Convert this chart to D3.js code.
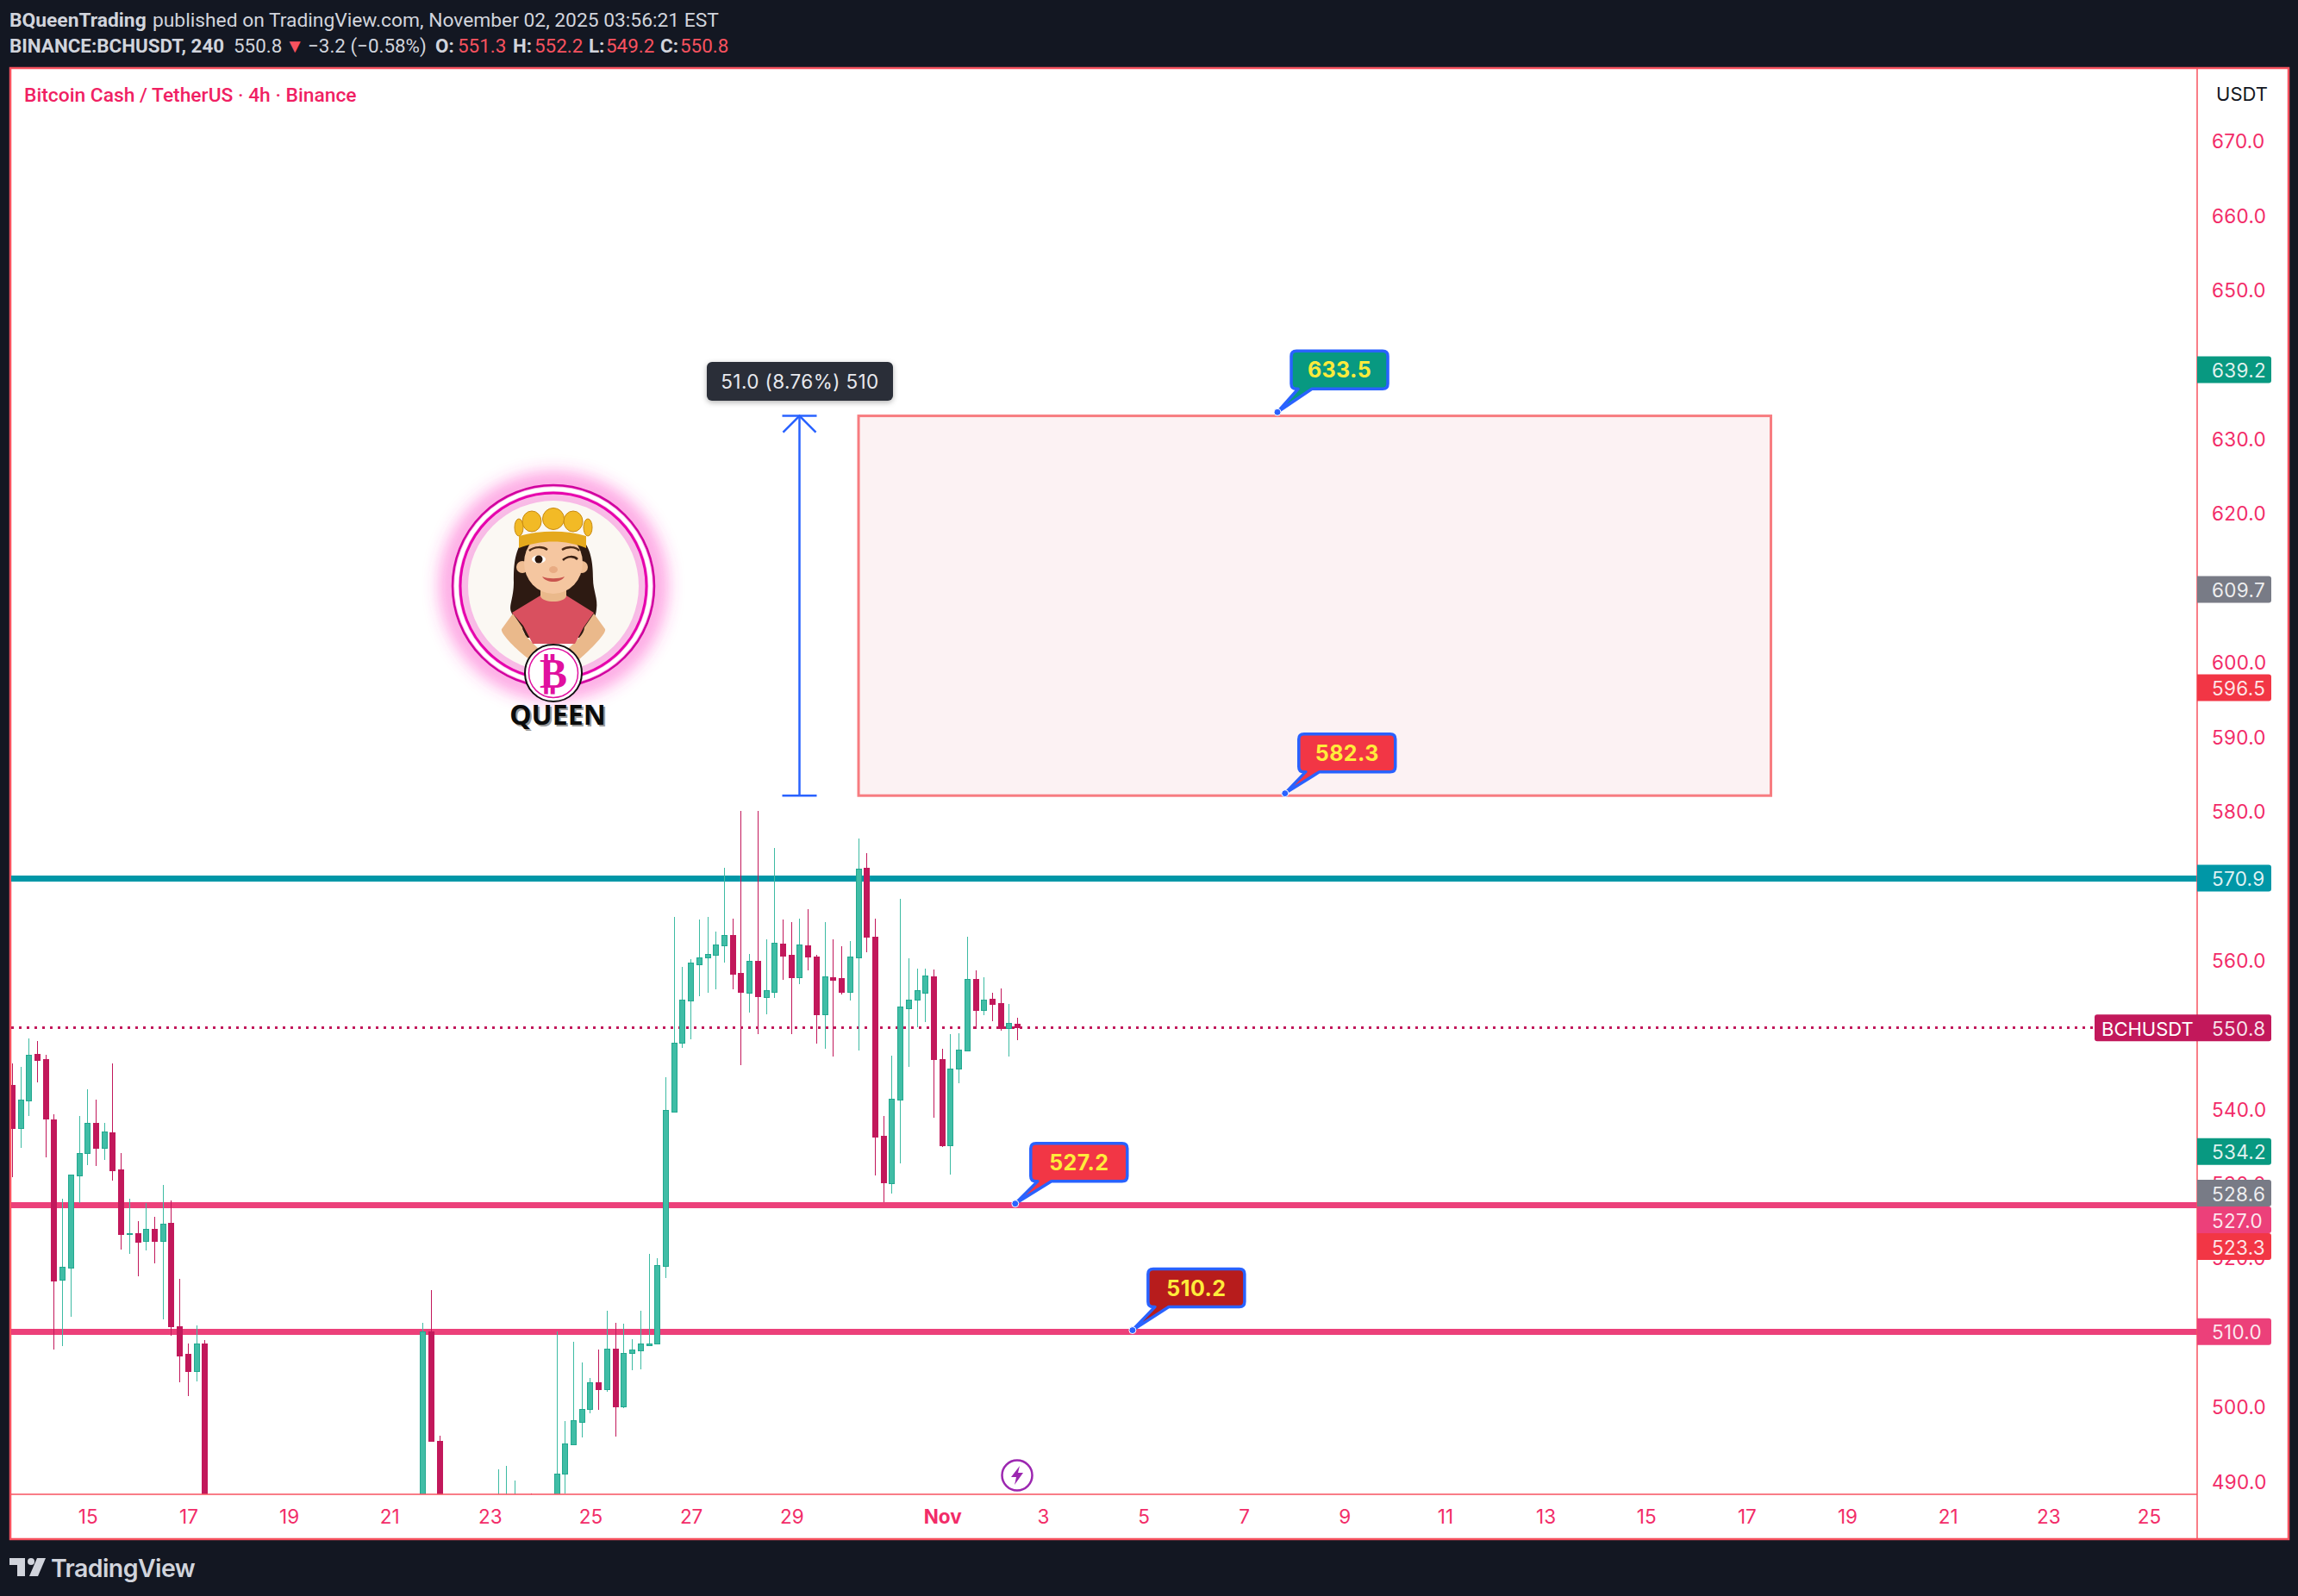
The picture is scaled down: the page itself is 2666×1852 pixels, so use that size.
<!DOCTYPE html>
<html>
<head>
<meta charset="utf-8">
<script src="https://cdn.jsdelivr.net/npm/d3@7"></script>
<style>
  html, body { margin: 0; padding: 0; background: #131722; }
  svg { display: block; }
  text { font-family: Inter, Roboto, sans-serif; }
  .head text, .head { font-family: Roboto, sans-serif; fill: #d1d4dc; }
</style>
</head>
<body>
<svg id="chart" width="2666" height="1852"></svg>
<script>
// visible 4h bars, counted from Oct 13 12:00; the rest of the run is below the pane
const barIndex = d3.range(0, 24).concat([49, 50, 51, 58, 59, 60, 62], d3.range(65, 121));

const opens = [
  543.1, 537.3, 541.0, 547.2, 546.5, 538.5, 516.9, 518.5, 530.9, 533.9,
  538.0, 534.6, 536.7, 531.7, 523.1, 523.2, 522.1, 523.7, 522.2, 524.6,
  510.7, 507.0, 504.7, 508.4,
  486, 510.0, 495.3, 486, 486, 486, 487.5,
  486, 490.9, 494.8, 497.9, 499.6, 503.2, 502.3, 507.7, 499.9, 507.1, 507.4, 508.2, 508.4, 518.8, 539.5,
  548.7, 554.4, 559.3, 560.2, 560.6, 561.8, 563.2, 558.1, 555.5, 559.7,
  554.9, 555.6, 562.1, 560.5, 557.5, 561.8, 560.3, 552.6, 557.6, 557.4,
  555.5, 560.2, 572.2, 563.0, 536.2, 529.8, 541.1, 553.4, 554.5, 555.5,
  557.7, 546.6, 535.0, 545.2, 547.7, 557.3, 553.1, 554.6, 554.1, 550.7, 551.3
];
const highs = [
  546.0, 545.6, 549.4, 549.0, 547.2, 539.2, 527.9, 531.1, 539.0, 542.6,
  541.2, 538.0, 546.0, 534.0, 527.9, 524.8, 527.3, 525.4, 529.7, 527.6,
  517.1, 508.4, 510.8, 508.9,
  511.2, 515.6, 496.0, 491.5, 492.0, 490.0, 488.3,
  510.0, 498.0, 508.6, 505.9, 503.8, 507.6, 512.8, 511.2, 511.1, 509.0, 512.8, 520.5, 519.9, 544.2, 565.7,
  559.0, 560.0, 565.4, 565.7, 563.7, 572.3, 565.5, 579.9, 560.7, 579.9,
  562.7, 575.0, 565.4, 565.0, 565.5, 566.7, 560.6, 565.0, 562.7, 561.8,
  562.5, 576.2, 574.3, 565.5, 539.0, 547.1, 568.1, 560.2, 558.8, 558.8,
  558.6, 548.0, 550.0, 550.1, 563.0, 558.5, 557.6, 555.5, 556.1, 554.0, 552.2
];
const lows = [
  530.8, 534.7, 539.0, 543.5, 533.4, 507.6, 508.1, 512.0, 527.3, 532.4,
  532.3, 533.1, 530.3, 521.0, 520.5, 517.4, 520.9, 519.2, 511.7, 509.5,
  503.2, 501.4, 503.3, 484,
  485, 495.3, 485, 485, 485, 485, 485,
  485, 488.3, 494.8, 495.8, 499.0, 499.5, 501.9, 495.9, 499.7, 504.8, 504.9, 508.2, 508.3, 517.2, 539.5,
  548.1, 549.3, 555.1, 555.5, 556.0, 559.6, 556.0, 545.8, 552.9, 550.0,
  552.6, 554.8, 557.3, 550.0, 556.7, 558.5, 548.7, 548.0, 547.0, 555.3,
  554.5, 547.8, 561.0, 531.0, 527.4, 528.6, 532.6, 545.6, 550.9, 551.6,
  538.7, 534.8, 531.1, 543.4, 547.7, 550.7, 552.5, 551.7, 550.4, 547.0, 549.2
];
const closes = [
  537.3, 541.1, 547.1, 546.4, 538.5, 516.9, 518.6, 531.0, 533.9, 538.0,
  534.6, 536.8, 531.6, 523.0, 523.2, 522.1, 523.7, 522.1, 524.5, 510.7,
  506.8, 504.7, 508.4, 486,
  510.0, 495.3, 486, 487, 487, 487, 486,
  490.9, 494.9, 498.0, 499.6, 503.2, 502.3, 507.7, 500.0, 507.1, 507.6, 508.3, 508.4, 518.9, 539.7, 548.8,
  554.5, 559.5, 560.2, 560.7, 562.0, 563.2, 558.0, 555.5, 559.8, 554.9,
  555.8, 562.2, 560.5, 557.5, 561.9, 560.3, 552.6, 557.7, 557.3, 555.5,
  560.3, 572.1, 562.9, 536.1, 529.9, 541.2, 553.6, 554.5, 555.8, 557.8,
  546.6, 535.0, 545.3, 547.8, 557.3, 553.1, 554.5, 553.9, 550.8, 551.4, 550.8
];

// axes - 640, 610, 570, 550 and 510 are hidden behind badges in the picture
const priceTicks = [490, 500, 520, 530, 540, 560, 580, 590, 600, 620, 630, 650, 660, 670];
const dateTickBars = [9, 21, 33, 45, 57, 69, 81, 93, 111, 123, 135, 147, 159, 171, 183, 195, 207, 219, 231, 243, 255];
const dateTickLabels = ["15", "17", "19", "21", "23", "25", "27", "29", "Nov", "3", "5", "7", "9", "11", "13", "15", "17", "19", "21", "23", "25"];

// drawings on the chart
const levelPrices = [570.9, 527.0, 510.0];
const levelColors = ["#0097a7", "#ec407a", "#ec407a"];
const lastPrice = 550.8;
const zonePrices = [633, 582];
const zoneBars = [101, 209.9];
const measureBar = 93.9;
const measureText = "51.0 (8.76%) 510";

const calloutBars = [151, 151.9, 119.7, 133.7];
const calloutPrices = [633.5, 582.3, 527.2, 510.2];
const calloutColors = ["#089981", "#f23645", "#f23645", "#b71c1c"];

const badgeValues = [639.2, 609.7, 596.5, 570.9, 550.8, 534.2, 528.6, 527.0, 523.3, 510.0];
const badgeColors = ["#089981", "#787b86", "#f23645", "#0097a7", "#c2185b", "#089981", "#787b86", "#ec407a", "#f23645", "#ec407a"];

const GREEN = "#40bda6", GREEN_EDGE = "#22a88f", RED = "#c2185b", PINK = "#f22c68", BORDER = "#f7525f", BLUE = "#2962ff";
const plot = { left: 13, right: 2549, top: 79, bottom: 1734 };

const x = d3.scaleLinear().domain([0, 100]).range([14.3, 986.3]);
const y = d3.scaleLinear().domain([510, 670]).range([1545.3, 162.9]);
const crisp = v => Math.floor(v) + 0.5;

const svg = d3.select("#chart");
svg.append("rect").attr("width", 2666).attr("height", 1852).attr("fill", "#131722");
svg.append("rect").attr("x", 12).attr("y", 79).attr("width", 2643).attr("height", 1707)
  .attr("fill", "#fff").attr("stroke", BORDER).attr("stroke-width", 2.5);

svg.append("defs").append("clipPath").attr("id", "pane").append("rect")
  .attr("x", plot.left).attr("y", plot.top)
  .attr("width", plot.right - plot.left).attr("height", plot.bottom - plot.top);
const defs = svg.select("defs");
defs.append("filter").attr("id", "glow").attr("x", "-50%").attr("y", "-50%").attr("width", "200%").attr("height", "200%")
  .append("feGaussianBlur").attr("stdDeviation", 11);
const shadow = defs.append("filter").attr("id", "tipShadow").attr("x", "-20%").attr("y", "-20%").attr("width", "140%").attr("height", "160%");
shadow.append("feDropShadow").attr("dx", 0).attr("dy", 2).attr("stdDeviation", 3).attr("flood-color", "#000").attr("flood-opacity", 0.3);

const pane = svg.append("g").attr("clip-path", "url(#pane)");

// zone
pane.append("rect")
  .attr("x", x(zoneBars[0])).attr("y", y(zonePrices[0]))
  .attr("width", x(zoneBars[1]) - x(zoneBars[0]))
  .attr("height", y(zonePrices[1]) - y(zonePrices[0]))
  .attr("fill", "#fcf2f3").attr("stroke", "#f77c80").attr("stroke-width", 3);

// last price line
pane.append("line")
  .attr("x1", plot.left).attr("x2", 2430)
  .attr("y1", crisp(y(lastPrice))).attr("y2", crisp(y(lastPrice)))
  .attr("stroke", RED).attr("stroke-width", 3).attr("stroke-dasharray", "3 6");

// horizontal levels
pane.selectAll(".level")
  .data(levelPrices)
  .enter()
  .append("line")
  .attr("class", "level")
  .attr("x1", plot.left).attr("x2", plot.right)
  .attr("y1", d => crisp(y(d))).attr("y2", d => crisp(y(d)))
  .attr("stroke", (d, i) => levelColors[i])
  .attr("stroke-width", 7);

// candles
const candles = barIndex.map((bar, i) => ({ bar, o: opens[i], h: highs[i], l: lows[i], c: closes[i] }));
const candle = pane.selectAll(".candle")
  .data(candles)
  .enter()
  .append("g")
  .attr("class", "candle");

candle.append("line")
  .attr("x1", d => crisp(x(d.bar))).attr("x2", d => crisp(x(d.bar)))
  .attr("y1", d => Math.round(y(d.h))).attr("y2", d => Math.round(y(d.l)))
  .attr("stroke", d => d.c >= d.o ? "#3dbba3" : RED)
  .attr("stroke-width", 1);

candle.append("rect")
  .attr("x", d => crisp(x(d.bar)) - 3)
  .attr("y", d => crisp(y(Math.max(d.o, d.c))))
  .attr("width", 6)
  .attr("height", d => Math.max(1, Math.round(Math.abs(y(d.o) - y(d.c)))))
  .attr("fill", d => d.c >= d.o ? GREEN : RED)
  .attr("stroke", d => d.c >= d.o ? GREEN_EDGE : RED)
  .attr("stroke-width", 1);

// measure arrow
const mx = crisp(x(measureBar)), my0 = y(zonePrices[0]), my1 = y(zonePrices[1]);
const measure = pane.append("g").attr("fill", "none").attr("stroke", BLUE).attr("stroke-width", 2.5);
measure.append("line").attr("x1", mx).attr("x2", mx).attr("y1", my0).attr("y2", my1);
measure.append("line").attr("x1", mx - 20).attr("x2", mx + 20).attr("y1", my0).attr("y2", my0);
measure.append("line").attr("x1", mx - 20).attr("x2", mx + 20).attr("y1", my1).attr("y2", my1);
measure.append("path").attr("d", `M${mx - 19},${my0 + 19}L${mx},${my0}L${mx + 19},${my0 + 19}`);

svg.append("rect").attr("x", 820).attr("y", 420).attr("width", 216).attr("height", 45).attr("rx", 6)
  .attr("fill", "#2a2e39").attr("filter", "url(#tipShadow)");
svg.append("text").attr("x", 928).attr("y", 451).attr("text-anchor", "middle")
  .attr("font-size", 22.5).attr("letter-spacing", 0.4).attr("fill", "#e8e9ee").text(measureText);

// callouts
const boxW = 112, boxH = 44;
const callout = svg.selectAll(".callout")
  .data(calloutPrices)
  .enter()
  .append("g")
  .attr("class", "callout");

// box sits up and to the right of its anchor, tail goes down to the dot
const boxOffsets = [[16, -71], [16, -69], [18, -70], [18, -71]];
callout.append("path")
  .attr("d", (d, i) => {
    const ax = x(calloutBars[i]), ay = y(d);
    const bx = ax + boxOffsets[i][0], by = ay + boxOffsets[i][1];
    const r = 6;
    return `M${bx + r},${by}H${bx + boxW - r}Q${bx + boxW},${by} ${bx + boxW},${by + r}` +
      `V${by + boxH - r}Q${bx + boxW},${by + boxH} ${bx + boxW - r},${by + boxH}` +
      `H${bx + 24}L${ax},${ay}L${bx + 8},${by + boxH}H${bx + r}Q${bx},${by + boxH} ${bx},${by + boxH - r}` +
      `V${by + r}Q${bx},${by} ${bx + r},${by}Z`;
  })
  .attr("fill", (d, i) => calloutColors[i])
  .attr("stroke", BLUE).attr("stroke-width", 3.5).attr("stroke-linejoin", "round");

callout.append("circle")
  .attr("cx", (d, i) => x(calloutBars[i])).attr("cy", d => y(d)).attr("r", 4)
  .attr("fill", BLUE).attr("stroke", "#fff").attr("stroke-width", 1);

callout.append("text")
  .attr("x", (d, i) => x(calloutBars[i]) + boxOffsets[i][0] + boxW / 2)
  .attr("y", (d, i) => y(d) + boxOffsets[i][1] + boxH / 2 + 9)
  .attr("text-anchor", "middle")
  .attr("font-size", 25).attr("letter-spacing", 0.4).attr("font-weight", 700).attr("fill", "#ffeb3b")
  .text(d => d.toFixed(1));

// avatar, loosely redrawn from the picture
const avatar = svg.append("g").attr("transform", "translate(642,680)");
avatar.append("circle").attr("r", 120).attr("fill", "none").attr("stroke", "#ff2fc0").attr("stroke-width", 18).attr("opacity", 0.6).attr("filter", "url(#glow)");
avatar.append("circle").attr("r", 113).attr("fill", "#f7b3e3").attr("filter", "url(#glow)");
avatar.append("circle").attr("r", 99).attr("fill", "#fbf8f3");
avatar.append("circle").attr("r", 117).attr("fill", "none").attr("stroke", "#d1009f").attr("stroke-width", 2.5);
avatar.append("circle").attr("r", 112.5).attr("fill", "none").attr("stroke", "#fff").attr("stroke-width", 4.5);
avatar.append("circle").attr("r", 108).attr("fill", "none").attr("stroke", "#e600ac").attr("stroke-width", 3);

const person = avatar.append("g");
// hair
person.append("path").attr("fill", "#2d1a12")
  .attr("d", "M-34,-55C-46,-40 -46,-20 -46,-5C-46,15 -52,22 -49,30C-45,42 -34,48 -32,60L32,60C38,50 48,45 50,27C52,15 46,5 46,-8C46,-25 44,-45 32,-55Z");
// arms
person.append("path").attr("fill", "#eab98b")
  .attr("d", "M-47,32L-60,50C-62,55 -42,75 -28,85L-18,72C-26,64 -36,56 -36,48Z");
person.append("path").attr("fill", "#eab98b")
  .attr("d", "M47,32L60,50C62,55 42,75 30,85L18,72C26,64 36,56 36,48Z");
// shirt
person.append("path").attr("fill", "#d9505f")
  .attr("d", "M-48,31L-15,11L15,11L47,31L35,48L25,67L-24,67L-35,46Z");
// neck and face
person.append("path").attr("fill", "#eab98b").attr("d", "M-15,0H15V12C12,20 -12,20 -15,12Z");
person.append("circle").attr("cx", -36).attr("cy", -22).attr("r", 7).attr("fill", "#efbd93");
person.append("circle").attr("cx", 33).attr("cy", -22).attr("r", 7).attr("fill", "#efbd93");
person.append("ellipse").attr("cx", 0).attr("cy", -27).attr("rx", 34).attr("ry", 36).attr("fill", "#f5c6a0");
// brows, eyes, mouth
person.append("path").attr("fill", "none").attr("stroke", "#4a2b18").attr("stroke-width", 2.5).attr("d", "M-28,-41C-22,-46 -12,-46 -7,-42M10,-42C16,-46 26,-46 30,-41");
person.append("ellipse").attr("cx", -17).attr("cy", -31).attr("rx", 8).attr("ry", 4.5).attr("fill", "#fff");
person.append("circle").attr("cx", -17).attr("cy", -31).attr("r", 4.5).attr("fill", "#2a160d");
person.append("path").attr("fill", "none").attr("stroke", "#3a2114").attr("stroke-width", 2.5).attr("d", "M11,-30C16,-35 24,-35 28,-31");
person.append("ellipse").attr("cx", 0).attr("cy", -19).attr("rx", 5).attr("ry", 4).attr("fill", "#e8ab83");
person.append("path").attr("fill", "#c9544e").attr("d", "M-13,-11C-6,-8 6,-8 13,-11C8,-3 -8,-3 -13,-11Z");
// crown
[[-40, -68, 5, 10], [40, -68, 5, 10], [-25, -75, 11, 12], [23, -75, 11, 12], [0, -78, 12.5, 12.5]].forEach(c => {
  person.append("ellipse").attr("cx", c[0]).attr("cy", c[1]).attr("rx", c[2]).attr("ry", c[3])
    .attr("fill", "#f2ba26").attr("stroke", "#c98a10").attr("stroke-width", 1);
});
person.append("path").attr("fill", "#e5a91d").attr("d", "M-40,-58C-15,-65 15,-65 38,-58L38,-44C15,-54 -15,-54 -40,-44Z");

// coin
const coin = avatar.append("g").attr("transform", "translate(0,101)");
coin.append("circle").attr("r", 33).attr("fill", "#fff").attr("stroke", "#111").attr("stroke-width", 2);
coin.append("circle").attr("r", 28.5).attr("fill", "none").attr("stroke", "#e0109f").attr("stroke-width", 1.5);
coin.append("text").attr("y", 17).attr("text-anchor", "middle")
  .attr("font-size", 48).attr("font-weight", 700).attr("fill", "#e0109f")
  .style("font-family", "'DejaVu Sans'").text("₿");

avatar.append("text").attr("x", 7).attr("y", 163).attr("text-anchor", "middle")
  .attr("font-size", 32).attr("font-weight", 700).attr("fill", "#999").style("font-family", "'Noto Sans'").text("QUEEN");
avatar.append("text").attr("x", 5).attr("y", 161).attr("text-anchor", "middle")
  .attr("font-size", 32).attr("font-weight", 700).attr("fill", "#0b0b0b").style("font-family", "'Noto Sans'").text("QUEEN");

// lightning marker
const bolt = svg.append("g").attr("transform", "translate(1180,1712)");
bolt.append("circle").attr("r", 17.5).attr("fill", "#fff").attr("stroke", "#9c27b0").attr("stroke-width", 2.5);
bolt.append("path").attr("fill", "#9c27b0").attr("d", "M3,-11L-7,2H-1L-3,11L7,-3H1Z");

// pane dividers
svg.append("line").attr("x1", plot.left).attr("x2", plot.right).attr("y1", plot.bottom).attr("y2", plot.bottom).attr("stroke", BORDER).attr("stroke-width", 1.5);
svg.append("line").attr("x1", plot.right).attr("x2", plot.right).attr("y1", plot.top).attr("y2", 1786).attr("stroke", BORDER).attr("stroke-width", 1.5);

// price axis
const yAxis = svg.append("g")
  .attr("transform", `translate(${plot.right},0)`)
  .call(d3.axisRight(y).tickValues(priceTicks).tickSize(0).tickPadding(17).tickFormat(d3.format(".1f")));
yAxis.select(".domain").remove();
yAxis.selectAll("text").attr("font-size", 22.5).attr("letter-spacing", 0.3).attr("dy", "0.4em").attr("fill", PINK).style("font-family", "Inter");

svg.append("text").attr("x", 2601).attr("y", 117).attr("text-anchor", "middle")
  .attr("font-size", 22).attr("fill", "#131722").text("USDT");

// date axis
const xAxis = svg.append("g")
  .attr("transform", `translate(0,${plot.bottom})`)
  .call(d3.axisBottom(x).tickValues(dateTickBars).tickSize(0).tickPadding(18).tickFormat((d, i) => dateTickLabels[i]));
xAxis.select(".domain").remove();
xAxis.selectAll("text").attr("font-size", 22.5).attr("fill", PINK)
  .attr("font-weight", (d, i) => dateTickLabels[i] === "Nov" ? 700 : 400).style("font-family", "Inter");

// price badges, pushed down where they would overlap
let lastBottom = -Infinity;
const badgeH = 31;
const badgeRows = badgeValues.map((value, i) => {
  const cy = Math.max(y(value), lastBottom + badgeH / 2);
  lastBottom = cy + badgeH / 2;
  return { value, color: badgeColors[i], cy };
});
const badge = svg.selectAll(".badge")
  .data(badgeRows)
  .enter()
  .append("g")
  .attr("class", "badge");
badge.append("path")
  .attr("d", d => `M${plot.right},${d.cy - badgeH / 2}H2632q3,0 3,3V${d.cy + badgeH / 2 - 3}q0,3 -3,3H${plot.right}Z`)
  .attr("fill", d => d.color);
badge.append("text")
  .attr("x", 2566).attr("y", d => d.cy + 9)
  .attr("font-size", 22.5).attr("letter-spacing", 0.3).attr("fill", "#fff").attr("fill-opacity", 0.88)
  .text(d => d.value.toFixed(1));

// symbol tag beside the last price
const tagY = y(lastPrice);
svg.append("path")
  .attr("d", `M${plot.right},${tagY - badgeH / 2}H2433q-3,0 -3,3V${tagY + badgeH / 2 - 3}q0,3 3,3H${plot.right}Z`)
  .attr("fill", RED);
svg.append("text").attr("x", 2438).attr("y", tagY + 9).attr("font-size", 22).attr("fill", "#fff").text("BCHUSDT");

// header text
const head = svg.append("g").attr("class", "head");
const line1 = head.append("text").attr("y", 31).attr("font-size", 22.8);
line1.append("tspan").attr("x", 11).attr("font-weight", 700).text("BQueenTrading");
line1.append("tspan").attr("x", 177).text("published on TradingView.com, November 02, 2025 03:56:21 EST");

const line2 = [
  ["BINANCE:BCHUSDT, 240", 11, 700, "#d1d4dc"],
  ["550.8", 271, 400, "#d1d4dc"],
  ["▼", 331, 400, "#f7525f"],
  ["−3.2 (−0.58%)", 357, 400, "#d1d4dc"],
  ["O:", 505, 700, "#d1d4dc"], ["551.3", 531, 400, "#f7525f"],
  ["H:", 595, 700, "#d1d4dc"], ["552.2", 620, 400, "#f7525f"],
  ["L:", 683, 700, "#d1d4dc"], ["549.2", 703, 400, "#f7525f"],
  ["C:", 766, 700, "#d1d4dc"], ["550.8", 789, 400, "#f7525f"]
];
head.append("text").attr("y", 61).attr("font-size", 22.4)
  .selectAll("tspan")
  .data(line2)
  .enter()
  .append("tspan")
  .attr("x", d => d[1])
  .attr("font-weight", d => d[2])
  .style("fill", d => d[3])
  .text(d => d[0]);

svg.append("text").attr("x", 28).attr("y", 118)
  .attr("font-size", 22.8).attr("font-weight", 500).attr("fill", "#f01f63")
  .style("font-family", "Roboto").text("Bitcoin Cash / TetherUS · 4h · Binance");

// TradingView logo
const logo = svg.append("g").attr("fill", "#d1d4dc");
logo.append("path").attr("d", "M11,1808H29V1829H20V1816H11Z");
logo.append("circle").attr("cx", 36).attr("cy", 1812).attr("r", 4);
logo.append("path").attr("d", "M43,1808H53L44,1829H34Z");
logo.append("text").attr("x", 59).attr("y", 1830).attr("font-size", 28.5).attr("font-weight", 600)
  .style("font-family", "Inter").attr("letter-spacing", -0.6).text("TradingView");
</script>
</body>
</html>
